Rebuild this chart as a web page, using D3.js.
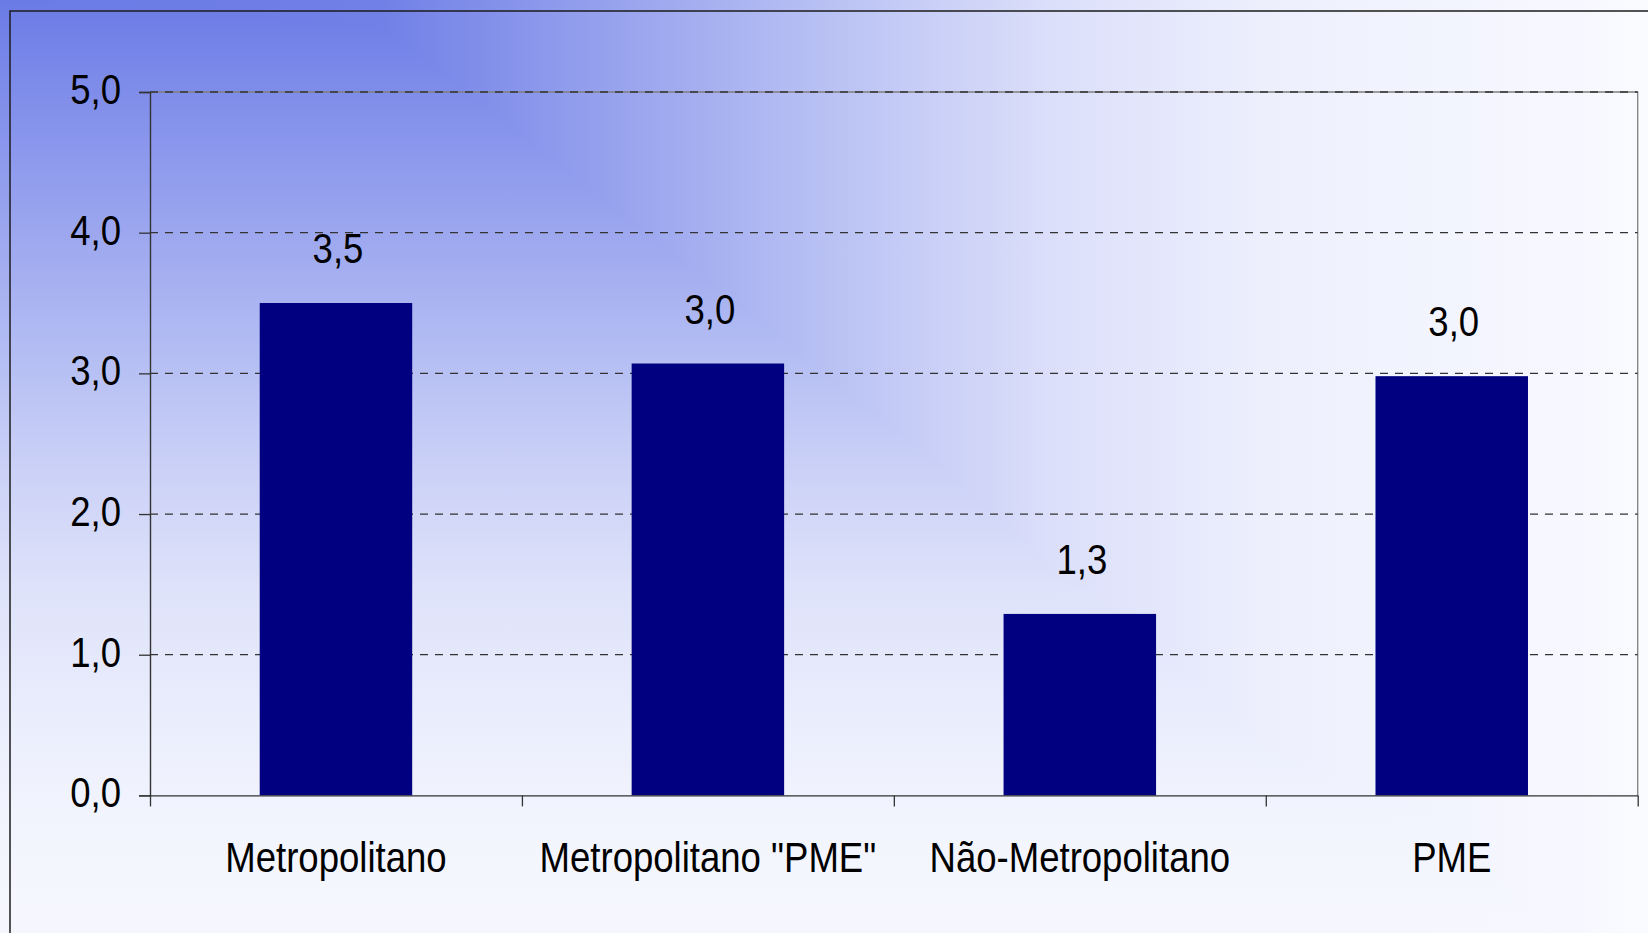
<!DOCTYPE html>
<html><head><meta charset="utf-8">
<script src="https://cdn.jsdelivr.net/npm/d3@7"></script>
<style>html,body{margin:0;padding:0;background:#fff;overflow:hidden}</style>
</head><body>
<svg id="chart" width="1648" height="933"></svg>
<script>
// ---- data ----
const categories = ["Metropolitano", "Metropolitano \"PME\"", "Não-Metropolitano", "PME"];
const values = [3.5, 3.07, 1.29, 2.98];
const valueLabels = ["3,5", "3,0", "1,3", "3,0"];
const yTicks = [0, 1, 2, 3, 4, 5];
const yTickLabels = ["0,0", "1,0", "2,0", "3,0", "4,0", "5,0"];

// ---- layout / style ----
const W = 1648, H = 933;
const plot = {left: 150, right: 1637.7, top: 92, bottom: 795.4};
const FONT = "'Liberation Sans', Arial, sans-serif";
const FS = 42, SX = 0.87;
const darkBg = d3.rgb(107, 123, 230), lightBg = d3.rgb(250, 251, 255);
const bgInterp = d3.interpolateRgb(darkBg, lightBg);
const bgProfileX = [[0, 0], [380, 0.04], [631, 0.33], [841, 0.56], [1051, 0.78], [1262, 0.91], [1577, 0.98], [1648, 1]];
const bgProfileY = [[0, 0], [119, 0.18], [238, 0.35], [357, 0.52], [476, 0.68], [595, 0.81], [714, 0.89], [833, 0.95], [933, 0.97]];

const svg = d3.select("#chart");
const defs = svg.append("defs");
function grad(id, profile, horiz, len) {
  const g = defs.append("linearGradient").attr("id", id)
    .attr("gradientUnits", "userSpaceOnUse")
    .attr("x1", 0).attr("y1", 0)
    .attr("x2", horiz ? len : 0).attr("y2", horiz ? 0 : len);
  g.selectAll("stop").data(profile).join("stop")
    .attr("offset", d => d[0] / len)
    .attr("stop-color", d => bgInterp(d[1]));
}
grad("gx", bgProfileX, true, W);
grad("gy", bgProfileY, false, H);

const bg = svg.append("g").style("isolation", "isolate");
bg.append("rect").attr("width", W).attr("height", H).attr("fill", "url(#gx)");
bg.append("rect").attr("width", W).attr("height", H).attr("fill", "url(#gy)")
  .style("mix-blend-mode", "lighten");

// outer chart border (extends past the right/bottom edges)
svg.append("rect").attr("x", 10).attr("y", 11).attr("width", W + 20).attr("height", H + 20)
  .attr("fill", "none").attr("stroke", "#1c1c1c").attr("stroke-width", 1.5);

// scales
const x = d3.scaleBand().domain(categories).range([plot.left, plot.right])
  .paddingInner(0.59).paddingOuter(0.295);
const y = d3.scaleLinear().domain([0, 5]).range([plot.bottom, plot.top]);
const xb = d3.scaleLinear().domain([0, categories.length]).range([plot.left, plot.right]);

// plot area border (gray), top and right
svg.append("path")
  .attr("d", `M${plot.left},${y(5)}H${plot.right}V${y(0)}`)
  .attr("fill", "none").attr("stroke", "#808080").attr("stroke-width", 1.3);

// gridlines
svg.append("g").selectAll("line").data(yTicks.filter(d => d > 0)).join("line")
  .attr("x1", plot.left).attr("x2", plot.right)
  .attr("y1", d => y(d)).attr("y2", d => y(d))
  .attr("stroke", "#333").attr("stroke-width", 1.3)
  .attr("stroke-dasharray", "8,7");

// bars
svg.append("g").selectAll("rect").data(values).join("rect")
  .attr("x", (d, i) => x(categories[i]))
  .attr("width", x.bandwidth())
  .attr("y", d => y(d))
  .attr("height", d => y(0) - y(d))
  .attr("fill", "#000080");

// y axis
const yAxis = svg.append("g").attr("transform", `translate(${plot.left},0)`)
  .call(d3.axisLeft(y).tickValues(yTicks).tickFormat((d, i) => yTickLabels[i])
    .tickSize(11).tickPadding(18));
yAxis.select(".domain").attr("stroke", "#333").attr("stroke-width", 1.4);
yAxis.selectAll(".tick line").attr("stroke", "#333").attr("stroke-width", 1.3);
yAxis.selectAll(".tick text")
  .attr("font-family", FONT).attr("font-size", FS).attr("fill", "#000")
  .attr("x", -29 / SX).attr("dy", "0.27em")
  .attr("transform", `scale(${SX},1)`);

// x axis (ticks at category boundaries)
const xAxis = svg.append("g").attr("transform", `translate(0,${plot.bottom})`)
  .call(d3.axisBottom(xb).ticks(categories.length).tickSize(11).tickSizeOuter(0).tickFormat(""));
xAxis.select(".domain").attr("stroke", "#333").attr("stroke-width", 1.4);
xAxis.selectAll(".tick line").attr("stroke", "#333").attr("stroke-width", 1.3);

// category labels
svg.append("g").selectAll("g").data(categories).join("g")
  .attr("transform", d => `translate(${x(d) + x.bandwidth() / 2},${plot.bottom + 76.3}) scale(${SX},1)`)
  .append("text")
  .attr("text-anchor", "middle")
  .attr("font-family", FONT).attr("font-size", FS).attr("fill", "#000")
  .text(d => d);

// data labels
svg.append("g").selectAll("g").data(values).join("g")
  .attr("transform", (d, i) => `translate(${x(categories[i]) + x.bandwidth() / 2 + 2},${y(d) - 40}) scale(${SX},1)`)
  .append("text")
  .attr("text-anchor", "middle")
  .attr("font-family", FONT).attr("font-size", FS).attr("fill", "#000")
  .text((d, i) => valueLabels[i]);
</script>
</body></html>
